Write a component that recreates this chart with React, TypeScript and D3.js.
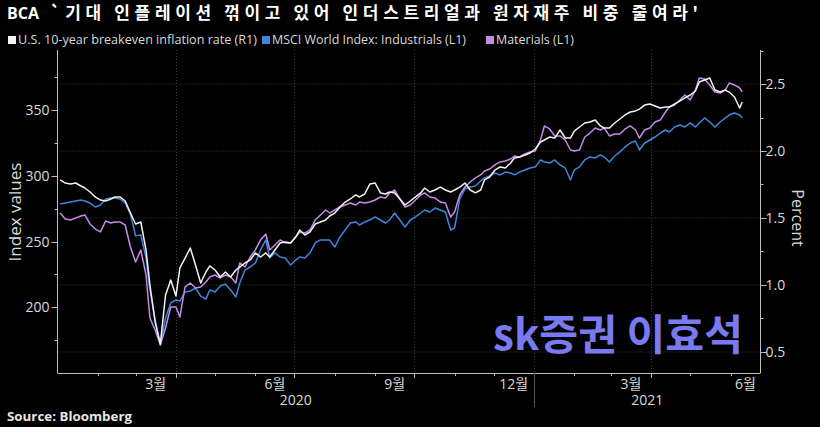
import React from 'react';
import * as d3 from 'd3';

const dates = [
  '2020-01-03','2020-01-07','2020-01-11','2020-01-15','2020-01-19','2020-01-22','2020-01-26','2020-01-30',
  '2020-02-03','2020-02-07','2020-02-11','2020-02-14','2020-02-18','2020-02-22','2020-02-26',
  '2020-03-01','2020-03-05','2020-03-09','2020-03-12','2020-03-16','2020-03-20','2020-03-24','2020-03-28',
  '2020-04-01','2020-04-04','2020-04-08','2020-04-12','2020-04-16','2020-04-20','2020-04-24','2020-04-27',
  '2020-05-01','2020-05-05','2020-05-09','2020-05-13','2020-05-17','2020-05-20','2020-05-24','2020-05-28',
  '2020-06-01','2020-06-05','2020-06-09','2020-06-12','2020-06-16','2020-06-20','2020-06-24','2020-06-28',
  '2020-07-02','2020-07-05','2020-07-09','2020-07-13','2020-07-17','2020-07-21','2020-07-25','2020-07-28',
  '2020-08-01','2020-08-05','2020-08-09','2020-08-13','2020-08-17','2020-08-20','2020-08-24','2020-08-28',
  '2020-09-01','2020-09-05','2020-09-09','2020-09-12','2020-09-16','2020-09-20','2020-09-24','2020-09-28',
  '2020-10-02','2020-10-06','2020-10-09','2020-10-13','2020-10-17','2020-10-21','2020-10-25','2020-10-29',
  '2020-11-01','2020-11-05','2020-11-09','2020-11-13','2020-11-17','2020-11-21','2020-11-24','2020-11-28',
  '2020-12-02','2020-12-06','2020-12-10','2020-12-14','2020-12-17','2020-12-21','2020-12-25','2020-12-29',
  '2021-01-02','2021-01-06','2021-01-09','2021-01-13','2021-01-17','2021-01-21','2021-01-25','2021-01-29',
  '2021-02-01','2021-02-05','2021-02-09','2021-02-13','2021-02-17','2021-02-21','2021-02-24','2021-02-28',
  '2021-03-04','2021-03-08','2021-03-12','2021-03-16','2021-03-20','2021-03-23','2021-03-27','2021-03-31',
  '2021-04-04','2021-04-08','2021-04-12','2021-04-15','2021-04-19','2021-04-23','2021-04-27',
  '2021-05-01','2021-05-05','2021-05-08','2021-05-12','2021-05-16','2021-05-20','2021-05-24','2021-05-28','2021-05-31',
  '2021-06-04','2021-06-08','2021-06-10',
];

// MSCI World Index: Industrials (left axis)
const industrials = [
  278.7, 279.4, 280.2, 281.0, 281.7, 281.0, 279.4, 276.4, 277.9, 282.5,
  283.2, 283.2, 282.5, 279.4, 271.1, 254.4, 255.1, 237.6, 213.2, 190.4,
  171.3, 191.9, 203.3, 205.6, 204.8, 211.7, 212.4, 214.7, 208.6, 206.3,
  213.2, 211.7, 216.2, 217.8, 213.2, 207.9, 218.5, 228.4, 230.7, 233.8,
  243.7, 251.3, 237.6, 241.4, 238.3, 237.6, 232.2, 236.0, 238.3, 237.6,
  241.4, 249.0, 251.3, 251.3, 251.3, 245.9, 253.6, 258.9, 264.2, 265.0,
  262.7, 265.0, 266.5, 268.8, 266.5, 264.2, 266.5, 271.8, 266.5, 261.2,
  266.5, 268.8, 271.8, 274.1, 272.6, 275.6, 274.1, 272.6, 258.9, 260.4,
  282.5, 290.1, 291.6, 292.4, 296.2, 298.5, 300.0, 302.3, 300.8, 303.0,
  302.3, 300.8, 303.0, 304.6, 306.1, 306.9, 312.2, 310.7, 309.9, 312.2,
  308.4, 306.1, 297.0, 304.6, 306.9, 312.2, 314.5, 313.7, 316.0, 314.5,
  310.7, 315.2, 318.3, 322.1, 325.1, 326.6, 319.8, 325.1, 327.4, 329.7,
  332.7, 335.0, 333.5, 337.3, 338.8, 337.3, 340.4, 337.3, 340.4, 344.2,
  341.1, 337.3, 341.1, 344.2, 346.4, 348.0, 346.4, 344.2,
];

// Materials (left axis)
const materials = [
  271.8, 267.3, 266.5, 268.0, 269.5, 270.3, 263.5, 259.6, 257.4, 265.7,
  264.2, 265.0, 265.0, 262.7, 245.9, 234.5, 243.7, 224.6, 191.9, 182.7,
  171.3, 184.3, 200.3, 200.3, 192.6, 215.5, 218.5, 214.7, 215.5, 219.3,
  223.1, 224.6, 222.3, 224.6, 223.1, 218.5, 233.8, 230.7, 238.3, 243.7,
  251.3, 255.8, 243.7, 247.5, 251.3, 249.0, 249.0, 253.6, 257.4, 256.6,
  258.9, 266.5, 270.3, 274.1, 271.8, 274.1, 276.4, 277.9, 279.4, 277.9,
  280.2, 279.4, 280.2, 281.7, 284.0, 283.2, 287.1, 289.3, 282.5, 276.4,
  277.9, 281.7, 285.5, 287.1, 284.0, 283.2, 280.2, 279.4, 268.8, 272.6,
  285.5, 291.6, 295.4, 298.5, 300.8, 303.8, 305.3, 308.4, 310.7, 311.4,
  312.9, 315.2, 314.5, 316.8, 318.3, 319.0, 327.4, 338.1, 335.8, 330.5,
  330.5, 327.4, 319.8, 319.0, 319.8, 329.7, 332.7, 336.5, 335.0, 336.5,
  330.5, 332.0, 332.0, 335.8, 338.1, 335.0, 328.9, 335.0, 336.5, 341.1,
  342.6, 348.7, 352.5, 354.1, 357.9, 361.7, 357.9, 365.5, 374.6, 373.9,
  369.3, 364.0, 363.2, 365.5, 370.8, 369.3, 367.0, 364.0,
];

// U.S. 10-year breakeven inflation rate (right axis, percent)
const breakeven = [
  1.784, 1.761, 1.754, 1.761, 1.739, 1.724, 1.694, 1.657, 1.634, 1.627,
  1.642, 1.657, 1.657, 1.627, 1.537, 1.455, 1.470, 1.261, 1.000, 0.724,
  0.560, 0.925, 1.037, 0.918, 1.127, 1.201, 1.276, 1.149, 1.015, 1.097,
  1.142, 1.112, 1.060, 1.097, 1.060, 1.112, 1.134, 1.164, 1.187, 1.239,
  1.209, 1.239, 1.209, 1.261, 1.313, 1.321, 1.313, 1.358, 1.410, 1.373,
  1.396, 1.455, 1.470, 1.485, 1.515, 1.537, 1.582, 1.619, 1.642, 1.672,
  1.657, 1.679, 1.754, 1.761, 1.687, 1.679, 1.694, 1.687, 1.642, 1.597,
  1.627, 1.657, 1.687, 1.724, 1.694, 1.709, 1.731, 1.709, 1.694, 1.709,
  1.731, 1.761, 1.709, 1.687, 1.709, 1.784, 1.806, 1.858, 1.881, 1.873,
  1.910, 1.948, 1.955, 1.970, 1.985, 2.015, 2.067, 2.082, 2.104, 2.097,
  2.157, 2.097, 2.097, 2.149, 2.179, 2.209, 2.216, 2.231, 2.187, 2.172,
  2.172, 2.209, 2.239, 2.269, 2.291, 2.299, 2.313, 2.343, 2.351, 2.336,
  2.321, 2.328, 2.328, 2.351, 2.373, 2.396, 2.418, 2.448, 2.515, 2.530,
  2.545, 2.455, 2.440, 2.455, 2.440, 2.403, 2.321, 2.366,
];

const leftTicks = [200, 250, 300, 350];
const leftMinorTicks = [175, 225, 275, 325, 375];
const rightTicks = [0.5, 1.0, 1.5, 2.0, 2.5];
const rightMinorTicks = [0.75, 1.25, 1.75, 2.25, 2.75];
const monthStarts = [
  '2020-02-01','2020-03-01','2020-04-01','2020-05-01','2020-06-01','2020-07-01','2020-08-01',
  '2020-09-01','2020-10-01','2020-11-01','2020-12-01','2021-01-01','2021-02-01','2021-03-01',
  '2021-04-01','2021-05-01','2021-06-01',
];
const quarterStarts = ['2020-04-01','2020-07-01','2020-10-01','2021-01-01','2021-04-01'];
const monthLabelMonths = ['2020-03-01','2020-06-01','2020-09-01','2020-12-01','2021-03-01','2021-06-01'];
const monthLabels = ['3월','6월','9월','12월','3월','6월'];
const years = ['2020', '2021'];

const title = "BCA";
const titleRest = "`기대 인플레이션 꺾이고 있어 인더스트리얼과 원자재주 비중 줄여라'";
const legendLabels = ['U.S. 10-year breakeven inflation rate (R1)', 'MSCI World Index: Industrials (L1)', 'Materials (L1)'];
const colors = ['#f2f2f2', '#3d86db', '#c68ae9'];

const W = 820, H = 427;
const X0 = 57.5, X1 = 760.5, YT = 50, YB = 373;
const FONT = "'Open Sans', 'Noto Sans CJK KR', sans-serif";
const KFONT = "'Noto Sans CJK KR', 'Open Sans', sans-serif";

export default function App() {
  const parse = d3.timeParse('%Y-%m-%d');
  const pd = dates.map((d) => parse(d) as Date);
  const domainEnd = new Date(2021, 5, 24);
  const x = d3.scaleTime().domain([new Date(2020, 0, 1), domainEnd]).range([X0, X1]);
  const yL = d3.scaleLinear().domain([150, 394.4]).range([YB, 52]);
  const yR = d3.scaleLinear().domain([0.343, 2.739]).range([YB, 52]);

  const lineL = d3.line<number>().x((_, i) => x(pd[i])).y((d) => yL(d));
  const lineR = d3.line<number>().x((_, i) => x(pd[i])).y((d) => yR(d));

  const gridColor = '#3c3c3c';
  const axisColor = '#bdbdbd';
  const textColor = '#d9d9d9';

  const legendX = [8, 262, 486];
  const legendLen = [239, 194, 78];

  return (
    <svg width={W} height={H} style={{ position: 'absolute', left: 0, top: 0, display: 'block' }}>
      <rect x={0} y={0} width={W} height={H} fill="#000" />
      {/* title */}
      <text x={7} y={19} fill="#fff" fontFamily={FONT} fontWeight={700} fontSize={16}>{title}</text>
      <text x={50} y={19} fill="#fff" fontFamily={KFONT} fontWeight={700} fontSize={17} textLength={648} lengthAdjust="spacing">{titleRest}</text>
      {/* legend */}
      {legendLabels.map((l, i) => (
        <g key={l}>
          <rect x={legendX[i]} y={36} width={8} height={8} fill={colors[i]} />
          <text x={legendX[i] + 10} y={44} fill={textColor} fontFamily={FONT} fontSize={12} textLength={legendLen[i]} lengthAdjust="spacingAndGlyphs">{l}</text>
        </g>
      ))}
      {/* grid */}
      {rightTicks.map((t) => (
        <line key={'gh' + t} x1={X0} x2={X1} y1={yR(t)} y2={yR(t)} stroke={gridColor} strokeDasharray="1,2" />
      ))}
      {quarterStarts.map((q) => {
        const xx = Math.round(x(parse(q) as Date)) + 0.5;
        return <line key={'gv' + q} x1={xx} x2={xx} y1={YT} y2={YB} stroke={gridColor} strokeDasharray="1,2" />;
      })}
      {/* series */}
      <path d={lineL(industrials) || ''} fill="none" stroke={colors[1]} strokeWidth={1.5} strokeLinejoin="round" />
      <path d={lineL(materials) || ''} fill="none" stroke={colors[2]} strokeWidth={1.5} strokeLinejoin="round" />
      <path d={lineR(breakeven) || ''} fill="none" stroke={colors[0]} strokeWidth={1.5} strokeLinejoin="round" />
      {/* left axis */}
      <line x1={X0} x2={X0} y1={YT} y2={YB} stroke={axisColor} />
      {leftTicks.map((t) => (
        <g key={'lt' + t}>
          <line x1={X0 - 6} x2={X0} y1={Math.round(yL(t)) + 0.5} y2={Math.round(yL(t)) + 0.5} stroke={axisColor} />
          <text x={X0 - 8} y={yL(t)} dy="0.35em" textAnchor="end" fill={textColor} fontFamily={FONT} fontSize={14}>{t}</text>
        </g>
      ))}
      {leftMinorTicks.map((t) => (
        <line key={'lm' + t} x1={X0 - 3} x2={X0} y1={Math.round(yL(t)) + 0.5} y2={Math.round(yL(t)) + 0.5} stroke={axisColor} />
      ))}
      <text transform="translate(21,212) rotate(-90)" textAnchor="middle" fill={textColor} fontFamily={FONT} fontSize={17}>Index values</text>
      {/* right axis */}
      <line x1={X1} x2={X1} y1={YT} y2={YB} stroke={axisColor} />
      {rightTicks.map((t) => (
        <g key={'rt' + t}>
          <line x1={X1} x2={X1 + 6} y1={Math.round(yR(t)) + 0.5} y2={Math.round(yR(t)) + 0.5} stroke={axisColor} />
          <text x={X1 + 5} y={yR(t)} dy="0.35em" fill={textColor} fontFamily={FONT} fontSize={14}>{t.toFixed(1)}</text>
        </g>
      ))}
      {rightMinorTicks.map((t) => (
        <line key={'rm' + t} x1={X1} x2={X1 + 3} y1={Math.round(yR(t)) + 0.5} y2={Math.round(yR(t)) + 0.5} stroke={axisColor} />
      ))}
      <text transform="translate(792,218) rotate(90)" textAnchor="middle" fill={textColor} fontFamily={FONT} fontSize={16}>Percent</text>
      {/* x axis */}
      <line x1={X0} x2={X1} y1={YB + 0.5} y2={YB + 0.5} stroke={axisColor} />
      {monthStarts.map((m) => {
        const xx = Math.round(x(parse(m) as Date)) + 0.5;
        const major = quarterStarts.includes(m);
        return <line key={'xt' + m} x1={xx} x2={xx} y1={YB} y2={YB + (major ? 5 : 3)} stroke={axisColor} />;
      })}
      {monthLabelMonths.map((m, i) => {
        const s = parse(m) as Date;
        const e = d3.timeMonth.offset(s, 1);
        const end = e > domainEnd ? domainEnd : e;
        const cx = (x(s) + x(end)) / 2;
        return <text key={'ml' + i} x={cx} y={389} textAnchor="middle" fill={textColor} fontFamily={FONT} fontSize={14}>{monthLabels[i]}</text>;
      })}
      {years.map((yr) => {
        const s = new Date(+yr, 0, 1);
        const e = new Date(+yr + 1, 0, 1);
        const end = e > domainEnd ? domainEnd : e;
        const cx = (x(s) + x(end)) / 2;
        return <text key={'yr' + yr} x={cx} y={405} textAnchor="middle" fill={textColor} fontFamily={FONT} fontSize={14}>{yr}</text>;
      })}
      <line x1={Math.round(x(new Date(2021, 0, 1))) + 0.5} x2={Math.round(x(new Date(2021, 0, 1))) + 0.5} y1={YB} y2={407} stroke="#555" />
      {/* source */}
      <text x={7} y={421} fill="#e6e6e6" fontFamily={FONT} fontWeight={700} fontSize={12} textLength={125} lengthAdjust="spacingAndGlyphs">Source: Bloomberg</text>
      {/* watermark */}
      <text x={493} y={350} fill="#7a7af0" fontFamily={KFONT} fontWeight={700} fontSize={42} textLength={250} lengthAdjust="spacingAndGlyphs">sk증권 이효석</text>
    </svg>
  );
}
